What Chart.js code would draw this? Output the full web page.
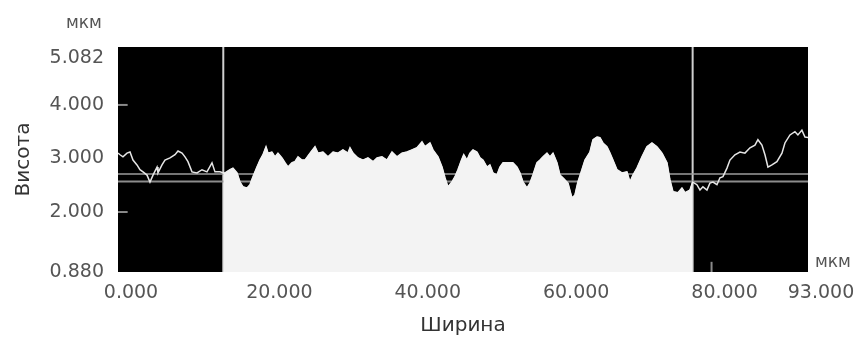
<!DOCTYPE html>
<html>
<head>
<meta charset="utf-8">
<script src="https://cdn.jsdelivr.net/npm/chart.js@4.4.1/dist/chart.umd.min.js"></script>
<style>
  body { margin: 0; background: #fff; }
  #wrap { position: relative; width: 860px; height: 342px; }
  .unit { position: absolute; font-family: "DejaVu Sans", sans-serif; font-size: 17px; color: #555; }
</style>
</head>
<body>
<div id="wrap">
  <canvas id="profile" width="860" height="342"></canvas>
  <div class="unit" style="left:66px; top:12px;">мкм</div>
  <div class="unit" style="left:815px; top:251px;">мкм</div>
</div>
<script>
// профіль: ширина (мкм) і висота (мкм)
const widthUm = [
  0.00, 0.27, 0.67, 1.21, 1.62, 2.02, 2.56, 2.96, 3.37, 3.91, 4.31, 4.72, 5.26, 5.39, 5.93, 6.33,
  7.01, 7.68, 8.09, 8.63, 9.03, 9.43, 9.97, 10.65, 11.32, 11.99, 12.67, 13.07, 13.75, 14.19, 14.42,
  15.09, 15.50, 16.04, 16.44, 16.85, 17.39, 17.79, 18.19, 18.73, 19.14, 19.54, 19.95, 20.22, 20.75,
  21.16, 21.56, 22.10, 22.51, 22.91, 23.45, 23.85, 24.26, 24.80, 25.20, 25.88, 26.55, 26.95, 27.63,
  28.30, 28.98, 29.65, 30.32, 31.00, 31.27, 31.67, 32.35, 33.02, 33.69, 34.37, 34.91, 35.58, 36.25,
  36.93, 37.60, 38.27, 38.95, 39.62, 40.30, 40.97, 41.37, 42.05, 42.45, 43.13, 43.67, 44.07, 44.47,
  45.01, 45.42, 45.82, 46.30, 46.60, 47.04, 47.44, 47.84, 48.38, 48.79, 49.19, 49.73, 50.13, 50.54,
  51.08, 51.48, 51.89, 52.56, 53.23, 53.77, 54.18, 54.58, 55.12, 55.53, 55.93, 56.47, 56.87, 57.28,
  57.82, 58.22, 58.63, 59.16, 59.57, 59.97, 60.65, 61.19, 61.59, 61.99, 62.53, 62.94, 63.61, 64.02,
  64.56, 64.96, 65.36, 65.90, 66.31, 66.71, 67.25, 67.92, 68.60, 69.00, 69.41, 69.95, 70.62, 71.29,
  71.97, 72.64, 73.32, 73.99, 74.39, 74.80, 75.47, 76.01, 76.42, 77.09, 77.45, 78.03, 78.44, 78.84,
  79.38, 79.78, 80.19, 80.73, 81.13, 81.54, 82.08, 82.48, 83.15, 83.83, 84.50, 85.18, 85.85, 86.25,
  86.79, 87.20, 87.60, 88.14, 88.81, 89.49, 89.89, 90.57, 91.24, 91.64, 92.18, 92.59, 93.00
];
const heightUm = [
  3.10, 3.07, 3.03, 3.10, 3.12, 2.97, 2.88, 2.79, 2.75, 2.69, 2.56, 2.69, 2.84, 2.73, 2.88, 2.97,
  3.01, 3.07, 3.14, 3.10, 3.03, 2.94, 2.75, 2.73, 2.79, 2.75, 2.92, 2.75, 2.75, 2.73, 2.73,
  2.79, 2.82, 2.73, 2.56, 2.47, 2.45, 2.51, 2.66, 2.84, 2.97, 3.07, 3.22, 3.10, 3.12,
  3.03, 3.10, 3.01, 2.92, 2.84, 2.92, 2.94, 3.03, 2.97, 2.97, 3.10, 3.22, 3.10, 3.12,
  3.03, 3.12, 3.10, 3.16, 3.10, 3.20, 3.10, 3.01, 2.97, 3.01, 2.94, 3.01, 3.03, 2.97,
  3.12, 3.03, 3.10, 3.12, 3.16, 3.20, 3.31, 3.22, 3.29, 3.16, 3.03, 2.84, 2.64, 2.47,
  2.56, 2.66, 2.79, 2.97, 3.07, 2.97, 3.10, 3.16, 3.12, 3.01, 2.97, 2.84, 2.88, 2.73,
  2.69, 2.84, 2.92, 2.92, 2.92, 2.84, 2.73, 2.56, 2.45, 2.54, 2.69, 2.92, 2.97, 3.03,
  3.10, 3.03, 3.10, 2.92, 2.69, 2.64, 2.54, 2.26, 2.32, 2.56, 2.79, 2.97, 3.12, 3.35,
  3.40, 3.39, 3.29, 3.22, 3.10, 2.97, 2.79, 2.73, 2.75, 2.56, 2.69, 2.82, 3.03, 3.22,
  3.29, 3.22, 3.10, 2.92, 2.60, 2.38, 2.36, 2.45, 2.36, 2.41, 2.56, 2.51, 2.41, 2.47,
  2.41, 2.54, 2.56, 2.51, 2.64, 2.66, 2.82, 2.97, 3.07, 3.12, 3.10, 3.20, 3.25, 3.35,
  3.25, 3.07, 2.84, 2.88, 2.94, 3.10, 3.29, 3.44, 3.50, 3.44, 3.53, 3.40, 3.39
];

const xTicks = [0, 20, 40, 60, 80, 93];
const yTicks = [0.880, 2.000, 3.000, 4.000, 5.082];
const cursorX = [14.19, 77.45];   // вертикальні маркери
const levelY = [2.71, 2.57];      // горизонтальні лінії
const innerYTicks = [2, 4];       // короткі риски всередині поля
const innerXTicks = [80];

const profilePts = widthUm.map((x, i) => ({ x: x, y: heightUm[i] }));
const selectedPts = profilePts.filter(p => p.x >= cursorX[0] && p.x <= cursorX[1]);

// чорний фон області графіка
const blackArea = {
  id: "blackArea",
  beforeDatasetsDraw(chart) {
    const a = chart.chartArea;
    const ctx = chart.ctx;
    ctx.save();
    ctx.fillStyle = "#000";
    ctx.fillRect(a.left, a.top, a.right - a.left, a.bottom - a.top);
    ctx.restore();
  },
};

const lineBase = { pointRadius: 0, tension: 0, fill: false };

const datasets = [
  {
    ...lineBase,
    data: selectedPts,
    borderColor: "#f3f3f3",
    backgroundColor: "#f3f3f3",
    borderWidth: 1,
    fill: "start",
  },
  {
    ...lineBase,
    data: profilePts,
    borderColor: "#e6e6e6",
    borderWidth: 1.5,
  },
  {
    ...lineBase,
    data: [{ x: 0, y: levelY[0] }, { x: 93, y: levelY[0] }],
    borderColor: "#9c9c9c",
    borderWidth: 1.5,
  },
  {
    ...lineBase,
    data: [{ x: 0, y: levelY[1] }, { x: 93, y: levelY[1] }],
    borderColor: "#8c8c8c",
    borderWidth: 2,
  },
];

cursorX.forEach((cx) => {
  datasets.push({
    ...lineBase,
    data: [{ x: cx, y: 0.88 }, { x: cx, y: 5.082 }],
    borderColor: "#cfcfcf",
    borderWidth: 2,
  });
});

innerYTicks.forEach((ty) => {
  datasets.push({
    ...lineBase,
    data: [{ x: 0, y: ty }, { x: 1.3, y: ty }],
    borderColor: "#8a8a8a",
    borderWidth: 2,
  });
});

innerXTicks.forEach((tx) => {
  datasets.push({
    ...lineBase,
    data: [{ x: tx, y: 0.88 }, { x: tx, y: 1.07 }],
    borderColor: "#8a8a8a",
    borderWidth: 2,
  });
});

const tickFont = { family: "DejaVu Sans", size: 19 };

new Chart(document.getElementById("profile"), {
  type: "line",
  data: { datasets: datasets },
  options: {
    responsive: false,
    animation: false,
    layout: { padding: { top: 47, right: 52, left: 0, bottom: 0 } },
    plugins: { legend: { display: false }, tooltip: { enabled: false } },
    scales: {
      x: {
        type: "linear",
        min: 0,
        max: 93,
        afterBuildTicks: (s) => { s.ticks = xTicks.map((v) => ({ value: v })); },
        afterFit: (s) => { s.height = 70; },
        grid: { display: false, drawTicks: false },
        border: { display: false },
        ticks: {
          font: tickFont,
          color: "#555",
          padding: 10,
          labelOffset: 13,
          maxRotation: 0,
          autoSkip: false,
          callback: (v) => v.toFixed(3),
        },
        title: {
          display: true,
          text: "Ширина",
          color: "#333",
          font: { family: "DejaVu Sans", size: 20 },
          padding: { top: 0, bottom: 4 },
        },
      },
      y: {
        min: 0.88,
        max: 5.082,
        afterBuildTicks: (s) => { s.ticks = yTicks.map((v) => ({ value: v })); },
        afterFit: (s) => { s.width = 118; },
        grid: { display: false, drawTicks: false },
        border: { display: false },
        ticks: {
          font: tickFont,
          color: "#555",
          padding: 14,
          autoSkip: false,
          // верхню позначку зсуваємо вниз, як в оригіналі
          callback: (v) => (v === 5.082 ? ["", v.toFixed(3)] : v.toFixed(3)),
        },
        title: {
          display: true,
          text: "Висота",
          color: "#333",
          font: { family: "DejaVu Sans", size: 20 },
          padding: { top: 12, bottom: 0 },
        },
      },
    },
  },
  plugins: [blackArea],
});
</script>
</body>
</html>
